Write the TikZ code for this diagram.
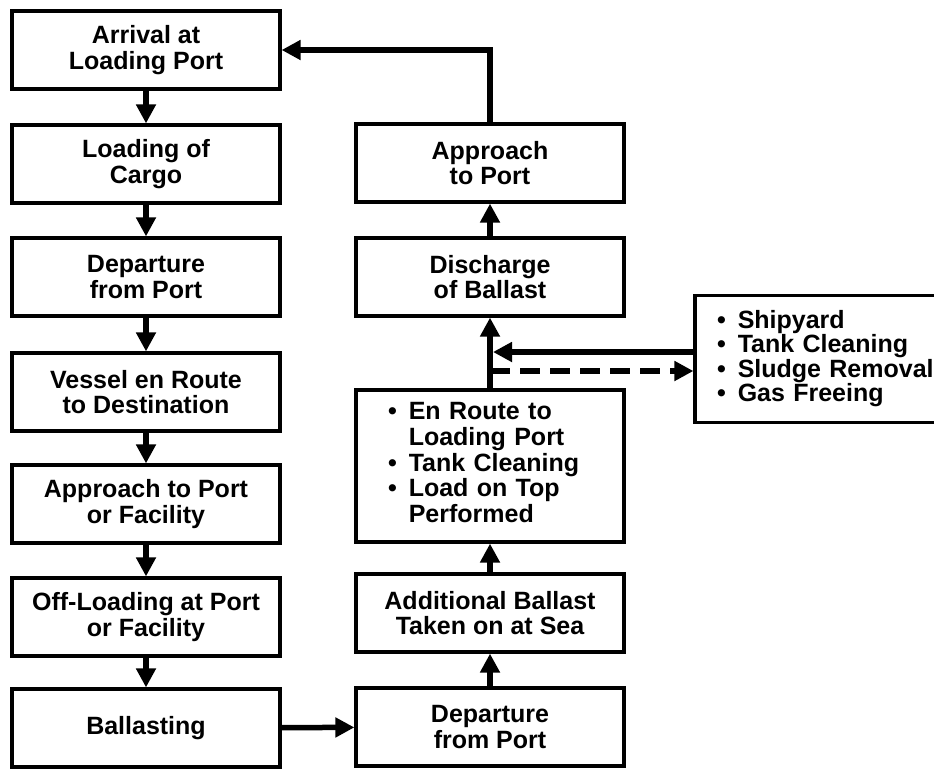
\documentclass[tikz,border=0pt]{standalone}
\usepackage{fontspec}
\setmainfont{Liberation Sans}
\usetikzlibrary{arrows.meta,positioning}
\tikzset{
  dob/.style={draw,line width=3.2pt,minimum width=268pt,minimum height=78pt,
    inner sep=2pt,align=center,font=\fontsize{25}{25.5}\selectfont\bfseries},
  nyil/.style={line width=5.5pt,-{Triangle[length=19pt,width=19pt]}},
  szag/.style={nyil,dash pattern=on 20pt off 10pt},
}

\begin{document}
\begin{tikzpicture}[x=1pt,y=-1pt]
  \useasboundingbox (0,0) rectangle (934,769);
  % bal oszlop
  \node[dob] (arr) at (146,50)  {Arrival at\\Loading Port};
  \node[dob] (load) at (146,164) {Loading of\\Cargo};
  \node[dob] (dep) at (146,277) {Departure\\from Port};
  \node[dob] (ves) at (146,392) {Vessel en Route\\to Destination};
  \node[dob] (appf) at (146,504) {Approach to Port\\or Facility};
  \node[dob] (off) at (146,617) {Off-Loading at Port\\or Facility};
  \node[dob] (bal) at (146,728) {Ballasting};
  % jobb oszlop
  \node[dob] (app) at (490,163) {Approach\\to Port};
  \node[dob] (dis) at (490,277) {Discharge\\of Ballast};
  \node[dob,minimum height=152pt,text width=204pt,align=left] (enr) at (490,466)
    {\begin{tabular}{@{}c@{\hspace{12pt}}l@{}}
      \textbullet & En Route to\\ & Loading Port\\
      \textbullet & Tank Cleaning\\
      \textbullet & Load on Top\\ & Performed
    \end{tabular}};
  \node[dob] (add) at (490,613) {Additional Ballast\\Taken on at Sea};
  \node[dob] (dep2) at (490,727) {Departure\\from Port};
  % oldalso doboz
  \node[dob,minimum width=250pt,minimum height=127pt,text width=206pt,align=left,
    font=\fontsize{25}{21}\selectfont\bfseries] (yard) at (820,359)
    {\begin{tabular}{@{}c@{\hspace{12pt}}l@{}}
      \textbullet & Shipyard\\
      \textbullet & Tank Cleaning\\
      \textbullet & Sludge Removal\\
      \textbullet & Gas Freeing
    \end{tabular}};
  \foreach \a/\b in {arr/load,load/dep,dep/ves,ves/appf,appf/off,off/bal,
    dep2/add,add/enr,enr/dis,dis/app} \draw[nyil] (\a) -- (\b);
  \draw[nyil] (bal) -- (dep2);
  \draw[nyil] (app.north) |- (arr.east);
  \coordinate (be) at (493,352);
  \coordinate (ki) at (490,371);
  \draw[nyil] (yard.west |- be) -- (be);
  \draw[szag] (ki) -- (yard.west |- ki);
\end{tikzpicture}
\end{document}
